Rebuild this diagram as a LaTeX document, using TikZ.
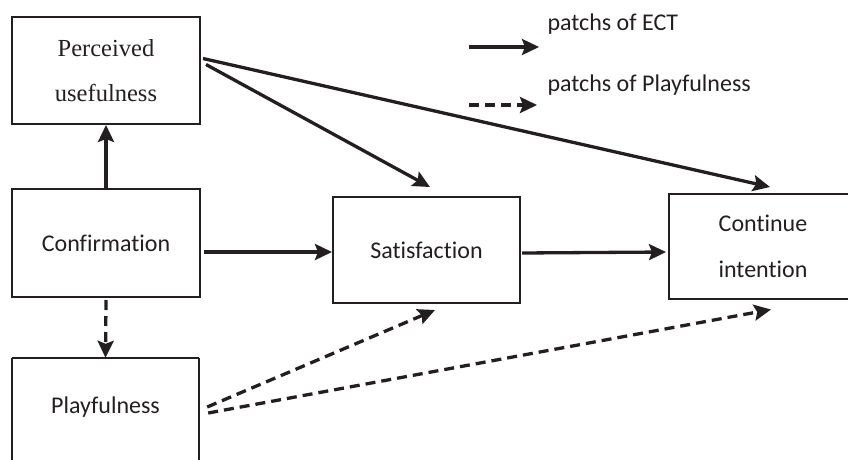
\documentclass[tikz,border=0pt]{standalone}
\usepackage{fontspec}
\setmainfont{Liberation Serif}
\newfontfamily\labelfont[Ligatures=NoCommon]{Carlito}
\usetikzlibrary{arrows.meta,calc}
\definecolor{ink}{HTML}{231F20}
\begin{document}
\begin{tikzpicture}[x=1pt,y=-1pt,
  box/.style={draw=ink,line width=2pt,rectangle,inner sep=0pt,align=center,text=ink},
  sanslabel/.style={font=\labelfont\fontsize{24}{46}\selectfont},
  seriflabel/.style={font=\fontsize{24.5}{45}\selectfont},
  ectpath/.style={draw=ink,line width=3.3pt,-{Stealth[length=17pt,width=16pt,inset=3pt]}},
  playpath/.style={ectpath,dash pattern=on 10pt off 6pt},
  legendtext/.style={anchor=west,text=ink,font=\labelfont\fontsize{24}{28}\selectfont}]
\clip (0,0) rectangle (848,460);
\useasboundingbox (0,0) rectangle (848,460);

% boxes of the model
\node[box,seriflabel,minimum width=188pt,minimum height=107pt] (pu) at (106,70.5) {Perceived\\usefulness};
\node[box,sanslabel,minimum width=188pt,minimum height=108pt] (conf) at (106,243) {Confirmation};
% the playfulness box runs off the lower edge
\node[rectangle,inner sep=0pt,minimum width=187pt,minimum height=100pt] (play) at (105.5,408) {};
\draw[draw=ink,line width=2pt] (play.north west) -- (play.north east)
  (play.north west) -- ++(0,120) (play.north east) -- ++(0,120);
\node[sanslabel,text=ink] (playtext) at (105.5,407) {Playfulness};
\node[box,sanslabel,minimum width=187pt,minimum height=106pt] (sat) at (426.5,250) {Satisfaction};
\node[box,sanslabel,minimum width=188pt,minimum height=105pt] (cont) at (763,246.5) {Continue\\intention};

% paths of ECT
\draw[ectpath] (conf.north) -- (pu.south);
\draw[ectpath] ($(pu.east)+(5,-6)$) -- ($(sat.north)+(3.5,-9)$);
\draw[ectpath] ($(pu.east)+(2,-12)$) -- ($(cont.north)+(7,-6)$);
\draw[ectpath] ($(conf.east)+(3,9)$) -- ($(sat.west)+(0,2)$);
\draw[ectpath] ($(sat.east)+(1,3)$) -- ($(cont.west)+(-2,5.5)$);

% paths of playfulness
\draw[playpath] ($(conf.south)+(0,2)$) -- (play.north);
\draw[playpath] ($(play.east)+(8,-1)$) -- ($(sat.south)+(8.5,6)$);
\draw[playpath] ($(play.east)+(9,5)$) -- ($(cont.south)+(8,9.5)$);

% legend
\coordinate (ectA) at (469,47);
\coordinate (ectB) at (539,47);
\coordinate (playA) at (469,105);
\coordinate (playB) at (537,105);
\draw[ectpath] (ectA) -- (ectB);
\draw[playpath] (playA) -- (playB);
\node[legendtext] (ectlabel) at (544,24) {patchs of ECT};
\node[legendtext] (playlabel) at (544,85) {patchs of Playfulness};
\end{tikzpicture}
\end{document}
